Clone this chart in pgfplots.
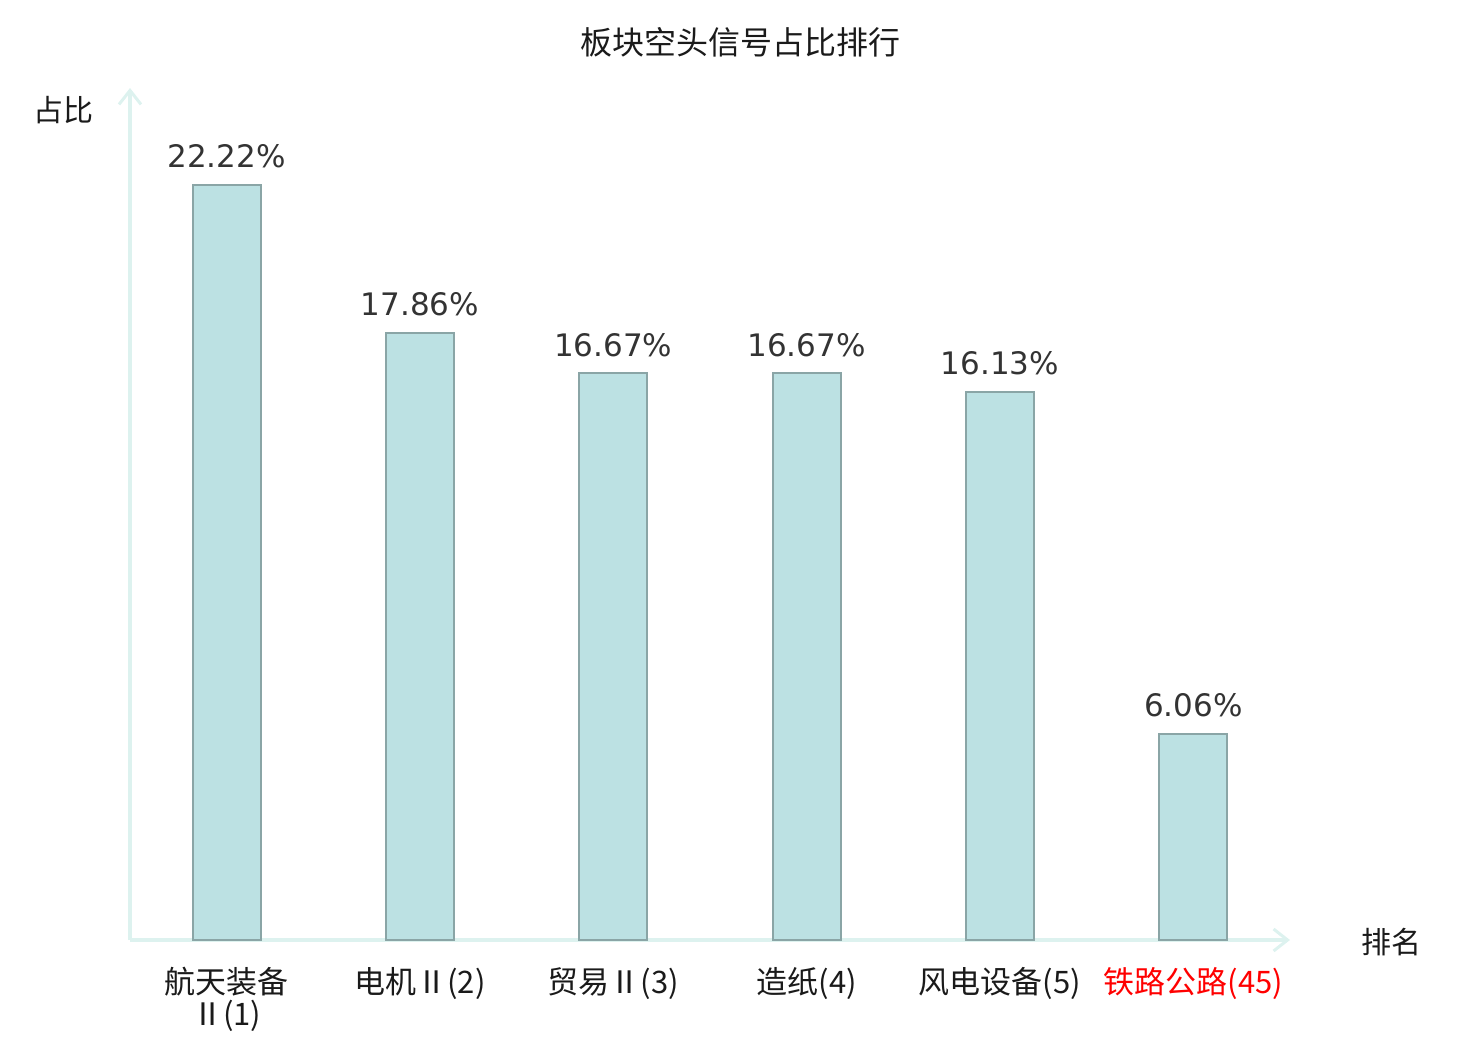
\documentclass[border=0pt]{standalone}
\usepackage{fontspec}
\setmainfont{Noto Sans CJK SC}
\newfontfamily\dejavu{DejaVu Sans}
\usepackage{pgfplots}
\pgfplotsset{compat=1.18}
\usetikzlibrary{arrows.meta}
\definecolor{barfill}{HTML}{BCE1E3}
\definecolor{bardraw}{HTML}{8AA5A6}
\definecolor{axiscol}{HTML}{DDF2EF}
\definecolor{valcol}{HTML}{333333}
\definecolor{lab}{HTML}{1A1A1A}
\begin{document}
\begin{tikzpicture}
\path[use as bounding box] (0,0) rectangle (740pt,520pt);
\begin{axis}[
  at={(65pt,50pt)}, anchor=south west,
  scale only axis, width=580pt, height=426pt,
  xmin=-0.5, xmax=5.5, ymin=0, ymax=25.07,
  axis x line=bottom, axis y line=left,
  axis line style={draw=axiscol, line width=1.8pt, -{Straight Barb[length=7pt,width=11pt,line width=1.5pt]}},
  ytick=\empty,
  xtick={0,1,2,3,4,5},
  xticklabels={航天装备\\Ⅱ(1),电机Ⅱ(2),贸易Ⅱ(3),造纸(4),风电设备(5),{\color{red}铁路公路(45)}},
  xtick style={draw=none},
  xticklabel style={font=\fontsize{15.5pt}{16pt}\selectfont, text=lab, align=center, yshift=-6pt},
  ybar, bar width=34pt,
  point meta=explicit symbolic,
  nodes near coords={\pgfplotspointmeta\%},
  nodes near coords style={font=\dejavu\fontsize{15.5pt}{18pt}\selectfont, text=valcol, anchor=south, inner sep=0pt, yshift=8pt},
  clip=false,
]
\addplot[fill=barfill, draw=bardraw, line width=1pt] coordinates {
  (0,22.22) [22.22]
  (1,17.86) [17.86]
  (2,16.67) [16.67]
  (3,16.67) [16.67]
  (4,16.13) [16.13]
  (5,6.06) [6.06]
};
\end{axis}
\node[font=\fontsize{16pt}{20pt}\selectfont, text=lab] at (370pt,499pt) {板块空头信号占比排行};
\node[font=\fontsize{15pt}{18pt}\selectfont, text=lab] at (31.5pt,465pt) {占比};
\node[font=\fontsize{15pt}{18pt}\selectfont, text=lab] at (695.5pt,49pt) {排名};
\end{tikzpicture}
\end{document}
